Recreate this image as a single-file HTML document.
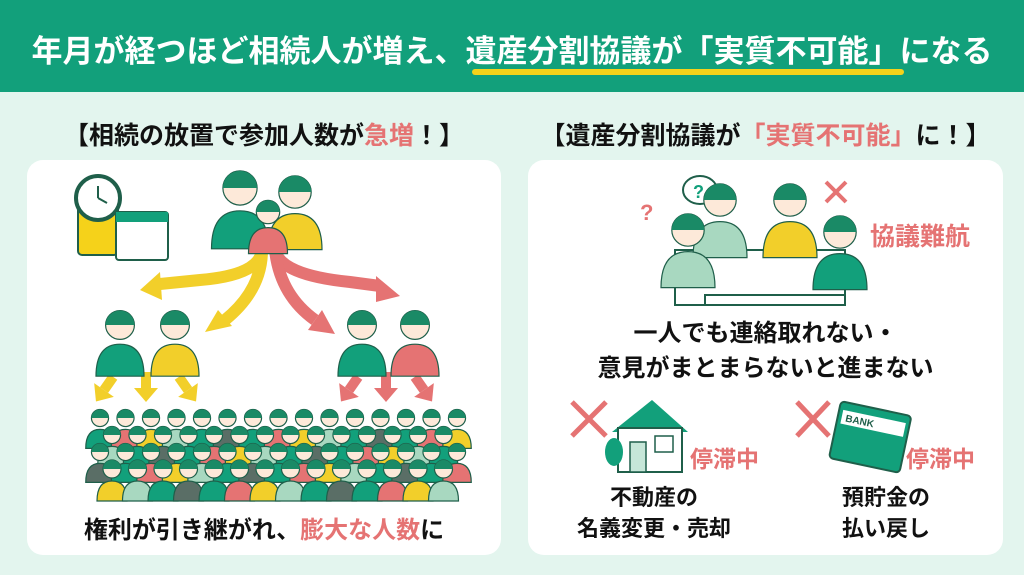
<!DOCTYPE html>
<html><head><meta charset="utf-8"><style>
body{margin:0;width:1024px;height:575px;overflow:hidden;background:#e3f5ee;font-family:"Liberation Sans","Noto Sans CJK JP",sans-serif;position:relative}
.a{position:absolute;white-space:nowrap;font-weight:bold}
.r{color:#e57373}
</style></head><body>
<div style="position:absolute;left:0;top:0;width:1024px;height:92px;background:#12a07b"></div>
<div class="a" style="left:0;width:1024px;top:26px;text-align:center;color:#fff;font-size:31px;font-weight:bold">年月が経つほど相続人が増え、遺産分割協議が「実質不可能」になる</div>
<div style="position:absolute;left:472px;top:69px;width:432px;height:6px;border-radius:3px;background:#f5d21a"></div>
<div style="position:absolute;left:27px;top:160px;width:474px;height:395px;background:#fff;border-radius:16px"></div>
<div style="position:absolute;left:528px;top:160px;width:475px;height:395px;background:#fff;border-radius:16px"></div>
<div class="a" style="left:27px;width:474px;text-align:center;top:116px;font-size:25px;color:#111">【相続の放置で参加人数が<span class="r">急増</span>！】</div>
<div class="a" style="left:528px;width:475px;text-align:center;top:116px;font-size:25px;color:#111">【遺産分割協議が<span class="r">「実質不可能」</span>に！】</div>
<svg id="s" style="position:absolute;left:0;top:0" width="1024" height="575">
<rect x="78" y="195" width="40" height="60" rx="4" fill="#f5d21a" stroke="#1f5f4a" stroke-width="2"/>
<circle cx="98" cy="198" r="22" fill="#fff" stroke="#1f5f4a" stroke-width="4"/>
<line x1="98" y1="198" x2="98" y2="186" stroke="#1f5f4a" stroke-width="2"/><line x1="98" y1="198" x2="107" y2="203" stroke="#1f5f4a" stroke-width="2"/>
<rect x="116" y="212" width="52" height="48" rx="3" fill="#fff" stroke="#1f5f4a" stroke-width="2"/>
<rect x="116" y="212" width="52" height="10" fill="#12a07b"/>
<path d="M262 250 Q260 275 200 280 L160 284" stroke="#f2cf2a" stroke-width="12" fill="none"/>
<polygon points="140,290 160,272 162,300" fill="#f2cf2a"/>
<path d="M262 250 Q262 290 225 320" stroke="#f2cf2a" stroke-width="12" fill="none"/>
<polygon points="205,332 218,310 232,326" fill="#f2cf2a"/>
<path d="M275 250 Q280 275 350 282 L380 286" stroke="#e57373" stroke-width="12" fill="none"/>
<polygon points="400,296 376,276 376,302" fill="#e57373"/>
<path d="M275 250 Q280 295 315 320" stroke="#e57373" stroke-width="12" fill="none"/>
<polygon points="335,334 308,330 322,310" fill="#e57373"/>
<defs><g id="da"><rect x="-5" y="-16" width="10" height="16"/><polygon points="-12,0 12,0 0,14"/></g></defs>
<g fill="#f2cf2a"><use href="#da" transform="translate(104 390) rotate(35)"/><use href="#da" transform="translate(146 388)"/><use href="#da" transform="translate(188 390) rotate(-35)"/></g>
<g fill="#e57373"><use href="#da" transform="translate(349 390) rotate(35)"/><use href="#da" transform="translate(386 388)"/><use href="#da" transform="translate(424 390) rotate(-35)"/></g>
<rect x="675" y="250" width="170" height="55" fill="#fff" stroke="#1f5f4a" stroke-width="2"/>
<rect x="705" y="295" width="140" height="10" fill="#fff" stroke="#1f5f4a" stroke-width="2"/>
<text x="870" y="245" font-size="25" font-weight="bold" fill="#e57373" font-family="Liberation Sans,Noto Sans CJK JP,sans-serif">協議難航</text>
<text x="640" y="220" font-size="22" font-weight="bold" fill="#e57373">?</text>
<ellipse cx="700" cy="190" rx="17" ry="14" fill="#fff" stroke="#1f5f4a" stroke-width="2"/>
<text x="693" y="198" font-size="18" font-weight="bold" fill="#12a07b">?</text>
<path d="M826 182 L846 202 M846 182 L826 202" stroke="#e57373" stroke-width="4"/>
<path d="M572 402 L606 436 M606 402 L572 436" stroke="#e57373" stroke-width="5"/>
<path d="M797 402 L829 436 M829 402 L797 436" stroke="#e57373" stroke-width="5"/>
<polygon points="612,432 652,400 688,432" fill="#12a07b"/>
<rect x="618" y="428" width="64" height="44" fill="#fff" stroke="#1f5f4a" stroke-width="2"/>
<rect x="630" y="442" width="16" height="30" fill="#c6e6d8" stroke="#1f5f4a" stroke-width="1.5"/>
<rect x="655" y="436" width="18" height="16" fill="#fff" stroke="#1f5f4a" stroke-width="1.5"/>
<ellipse cx="614" cy="452" rx="9" ry="14" fill="#12a07b"/>
<g transform="rotate(12 870 438)"><rect x="834" y="408" width="72" height="58" rx="4" fill="#12a07b" stroke="#1f5f4a" stroke-width="2"/><rect x="838" y="416" width="64" height="14" fill="#fff"/><text x="842" y="427" font-size="10" font-weight="bold" fill="#1f5f4a">BANK</text></g>
</svg>
<div class="a r" style="left:690px;top:440px;font-size:23px">停滞中</div>
<div class="a r" style="left:906px;top:440px;font-size:23px">停滞中</div>
<div class="a" style="left:528px;width:475px;text-align:center;top:316px;font-size:24px;line-height:35px;color:#111">一人でも連絡取れない・<br>意見がまとまらないと進まない</div>
<div class="a" style="left:574px;width:160px;text-align:center;top:482px;font-size:22px;line-height:31px;color:#111">不動産の<br>名義変更・売却</div>
<div class="a" style="left:806px;width:160px;text-align:center;top:482px;font-size:22px;line-height:31px;color:#111">預貯金の<br>払い戻し</div>
<div class="a" style="left:27px;width:474px;text-align:center;top:510px;font-size:24px;color:#111">権利が引き継がれ、<span class="r">膨大な人数</span>に</div>
<script>
var s=document.getElementById('s'),h='';
var cols=['#12a07b','#e57373','#f2cf2a','#a8d8c0','#12a07b','#5a6e66'];
function p(x,y,sc,c){var r=9*sc;h+='<path d="M'+(x-15*sc)+' '+(y+32*sc)+' Q'+(x-15*sc)+' '+(y+12*sc)+' '+x+' '+(y+12*sc)+' Q'+(x+15*sc)+' '+(y+12*sc)+' '+(x+15*sc)+' '+(y+32*sc)+' Z" fill="'+c+'" stroke="#1f5f4a" stroke-width="1.2"/>';h+='<circle cx="'+x+'" cy="'+y+'" r="'+r+'" fill="#fde9d9" stroke="#1f5f4a" stroke-width="1.2"/><path d="M'+(x-r)+' '+y+' A'+r+' '+r+' 0 0 1 '+(x+r)+' '+y+' Z" fill="#1a8a66"/>';}
p(240,188,1.9,'#12a07b');p(295,192,1.8,'#f2cf2a');p(268,212,1.3,'#e57373');
p(120,325,1.6,'#12a07b');p(175,325,1.6,'#f2cf2a');p(362,325,1.6,'#12a07b');p(415,325,1.6,'#e57373');
var k=0;
for(var row=0;row<4;row++){var y=418+row*17,n=15-(row%2);for(var i=0;i<n;i++){var x=100+i*25.5+(row%2)*12;p(x,y,row==3?1.0:0.95,cols[(k++*7)%6]);}}
p(720,200,1.8,'#a8d8c0');p(790,200,1.8,'#f2cf2a');p(688,230,1.8,'#a8d8c0');p(840,232,1.8,'#12a07b');
s.insertAdjacentHTML('beforeend',h);
</script>
</body></html>
